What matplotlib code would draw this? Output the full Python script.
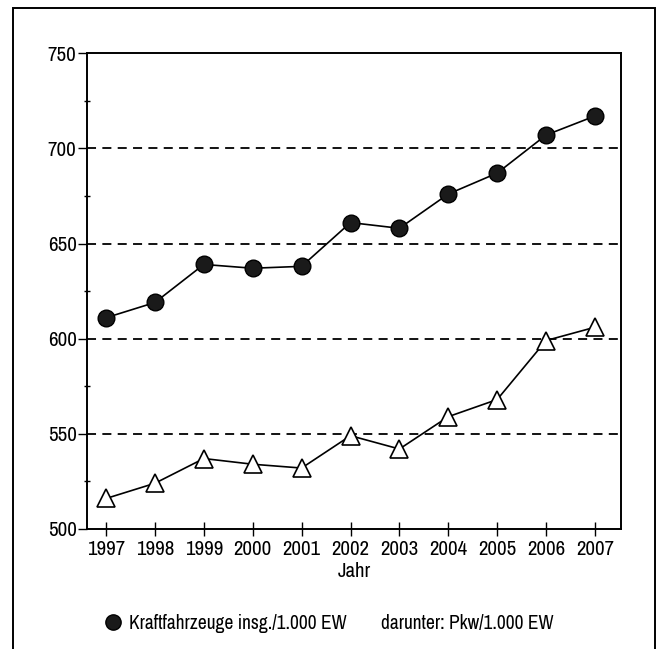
import matplotlib
matplotlib.use("Agg")
import matplotlib.pyplot as plt
from matplotlib.lines import Line2D
from matplotlib.patches import Rectangle
from matplotlib.ticker import MultipleLocator

plt.rcParams['font.family'] = ['Archivo Narrow', 'DejaVu Sans']

# Kfz-Bestand je 1.000 Einwohner
jahre = [1997, 1998, 1999, 2000, 2001, 2002, 2003, 2004, 2005, 2006, 2007]
kfz_insg = [611, 619, 639, 637, 638, 661, 658, 676, 687, 707, 717]
pkw = [516, 524, 537, 534, 532, 549, 542, 559, 568, 599, 606]

label_kfz = "Kraftfahrzeuge insg./1.000 EW"
label_pkw = "darunter: Pkw/1.000 EW"

fig = plt.figure(figsize=(6.57, 6.49), dpi=100)
ax = fig.add_axes([0.1324, 0.185, 0.8126, 0.733])

for y in [550, 600, 650, 700]:
    ax.axhline(y, color="black", lw=1.3, ls=(0, (5, 3.5)), zorder=1)

ax.plot(jahre, kfz_insg, color="black", lw=1.2, marker="o", ms=12,
        mfc="#1a1a1a", mec="black", mew=1.0, zorder=3)
ax.plot(jahre, pkw, color="black", lw=1.2, marker="^", ms=13,
        mfc="white", mec="black", mew=1.2, zorder=3)

ax.set_xlim(1996.61, 2007.53)
ax.set_ylim(500, 750)
ax.set_xticks(jahre)
ax.yaxis.set_major_locator(MultipleLocator(50))
ax.yaxis.set_minor_locator(MultipleLocator(25))
ax.tick_params(axis="y", which="major", direction="out", length=6.5, width=1.0,
               pad=1, labelsize=15)
ax.tick_params(axis="y", which="minor", direction="inout", length=4, width=1.0)
ax.tick_params(axis="x", which="major", direction="inout", length=10, width=1.0,
               pad=3, labelsize=15)
for s in ax.spines.values():
    s.set_linewidth(1.4)

ax.set_xlabel("Jahr", fontsize=15, labelpad=2)

handles = [
    Line2D([], [], marker="o", ls="none", ms=11, mfc="#1a1a1a", mec="black"),
    Line2D([], [], marker="none", ls="none"),
]
fig.legend(handles, [label_kfz, label_pkw], loc="center", ncol=2,
           bbox_to_anchor=(0.5, 0.04), frameon=False, fontsize=14,
           handletextpad=0.3, columnspacing=0.5, handlelength=1.0)

# Rahmen um die Grafik
fig.patches.append(Rectangle((13 / 657, -0.02), (655 - 13) / 657, 1.02 - 8 / 649,
                             transform=fig.transFigure, fill=False,
                             ec="black", lw=1.4))

fig.savefig("out.png", dpi=100)
